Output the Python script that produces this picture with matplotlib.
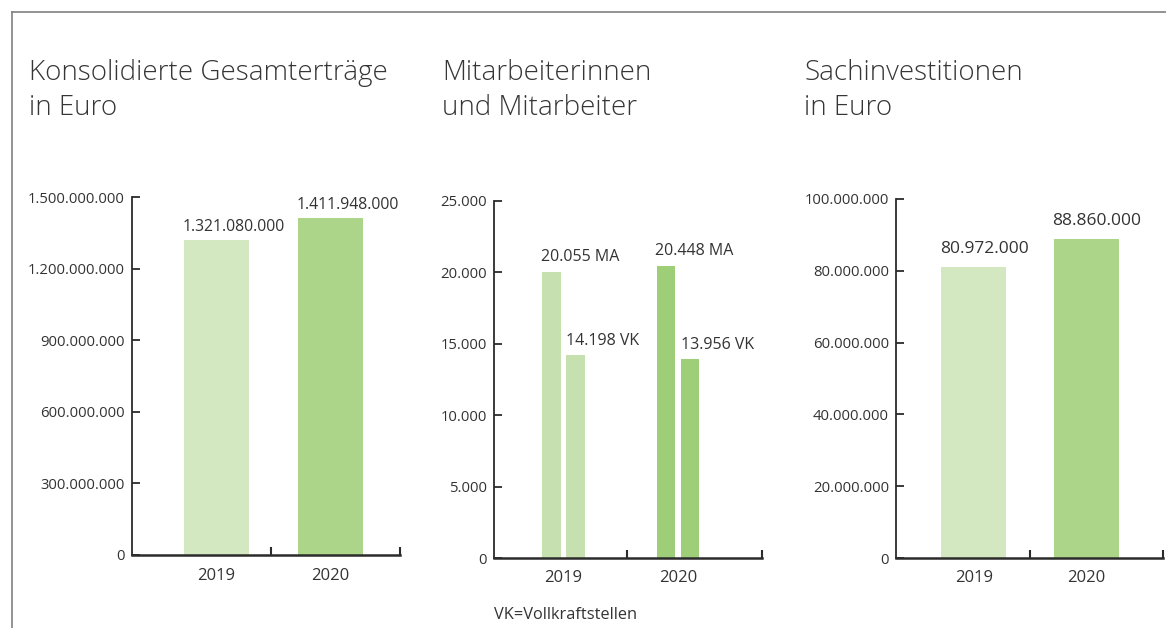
import matplotlib
matplotlib.use("Agg")
import matplotlib.pyplot as plt
from matplotlib.ticker import FuncFormatter
from matplotlib.lines import Line2D
import numpy as np

plt.rcParams['font.family'] = ['Open Sans', 'DejaVu Sans']

# ---------------- data ----------------
years = ["2019", "2020"]

titles = [
    ["Konsolidierte Gesamterträge", "in Euro"],
    ["Mitarbeiterinnen", "und Mitarbeiter"],
    ["Sachinvestitionen", "in Euro"],
]

ertraege = [1321080000, 1411948000]
mitarbeiter_ma = [20055, 20448]
mitarbeiter_vk = [14198, 13956]
investitionen = [80972000, 88860000]

yticks_ertraege = [0, 300000000, 600000000, 900000000, 1200000000, 1500000000]
yticks_mitarbeiter = [0, 5000, 10000, 15000, 20000, 25000]
yticks_investitionen = [0, 20000000, 40000000, 60000000, 80000000, 100000000]

footnote = "VK=Vollkraftstellen"

# ---------------- style ----------------
W, H = 1166, 628
TXT = "#333333"
AX = "#2b2b2b"
light = "#d3e8c0"
dark = "#acd58a"
light2 = "#c6e0b0"
dark2 = "#9ecf78"
PX = 72 / 100  # points per pixel


def fmt(v):
    return f"{int(round(v)):,}".replace(",", ".")


fig = plt.figure(figsize=(W / 100, H / 100), dpi=100)

# frame
fig.add_artist(Line2D([12 / W, 12 / W], [0, 1 - 12 / H], color="#808080", lw=1.2, transform=fig.transFigure))
fig.add_artist(Line2D([12 / W, 1], [1 - 12 / H, 1 - 12 / H], color="#808080", lw=1.2, transform=fig.transFigure))


def make_ax(l, r, top, bot, xlim, ylim, yticks, seps):
    ax = fig.add_axes([l / W, 1 - bot / H, (r - l) / W, (bot - top) / H])
    ax.set_xlim(*xlim)
    ax.set_ylim(*ylim)
    for s in ("top", "right"):
        ax.spines[s].set_visible(False)
    ax.spines["left"].set_color(AX)
    ax.spines["left"].set_linewidth(1.3)
    ax.spines["bottom"].set_color(AX)
    ax.spines["bottom"].set_linewidth(1.8)
    ax.set_yticks(yticks)
    ax.yaxis.set_major_formatter(FuncFormatter(lambda v, _: fmt(v)))
    ax.tick_params(axis="y", direction="in", length=8 * PX, width=1.3, color=AX,
                   labelsize=10.7, labelcolor=TXT, pad=5)
    ax.set_xticks([0, 1], labels=years)
    ax.tick_params(axis="x", which="major", length=0, labelsize=12, labelcolor=TXT, pad=9)
    ax.set_xticks(seps, minor=True)
    ax.tick_params(axis="x", which="minor", direction="in", length=8 * PX, width=1.5, color=AX)
    ax.set_facecolor("none")
    return ax


def put_title(x, lines):
    kw = dict(fontsize=20, color="#363636", ha="left", va="baseline", fontweight="light")
    fig.text(x / W, 1 - 80 / H, lines[0], **kw)
    fig.text(x / W, 1 - 115 / H, lines[1], **kw)


# Panel 1
put_title(29, titles[0])
ax1 = make_ax(132, 400, 197, 555, (-0.741, 1.610), (0, 1500000000), yticks_ertraege, [0.478, 1.606])
bw = 0.57
x = np.arange(len(years))
bars = ax1.bar(x, ertraege, width=bw, color=[light, dark])
for b, v in zip(bars, ertraege):
    ax1.annotate(fmt(v), (b.get_x(), b.get_height()), xytext=(-1, 13 * PX),
                 textcoords="offset points", ha="left", va="center", fontsize=11.3, color=TXT)

# Panel 2
put_title(442, titles[1])
ax2 = make_ax(494, 762, 201, 558, (-0.607, 1.734), (0, 25000), yticks_mitarbeiter, [0.555, 1.730])
bw2 = 0.165
off = 0.105
b_ma = ax2.bar(x - off, mitarbeiter_ma, width=bw2, color=[light2, dark2])
b_vk = ax2.bar(x + off, mitarbeiter_vk, width=bw2, color=[light2, dark2])
for b, v in zip(b_ma, mitarbeiter_ma):
    ax2.annotate(fmt(v) + " MA", (b.get_x(), b.get_height()), xytext=(-1, 15 * PX),
                 textcoords="offset points", ha="left", va="center", fontsize=11.5, color=TXT)
for b, v in zip(b_vk, mitarbeiter_vk):
    ax2.annotate(fmt(v) + " VK", (b.get_x(), b.get_height()), xytext=(0, 14 * PX),
                 textcoords="offset points", ha="left", va="center", fontsize=11.5, color=TXT)
fig.text(494 / W, 1 - 615 / H, footnote, fontsize=11.8, color=TXT, ha="left", va="center")

# Panel 3
put_title(804, titles[2])
ax3 = make_ax(896, 1163, 199, 558, (-0.693, 1.680), (0, 100000000), yticks_investitionen, [0.498, 1.676])
bw3 = 0.578
bars3 = ax3.bar(x, investitionen, width=bw3, color=[light, dark])
for b, v in zip(bars3, investitionen):
    ax3.annotate(fmt(v), (b.get_x(), b.get_height()), xytext=(-1, 18 * PX),
                 textcoords="offset points", ha="left", va="center", fontsize=12.5, color=TXT)

fig.savefig("out.png", dpi=100, facecolor="white")
